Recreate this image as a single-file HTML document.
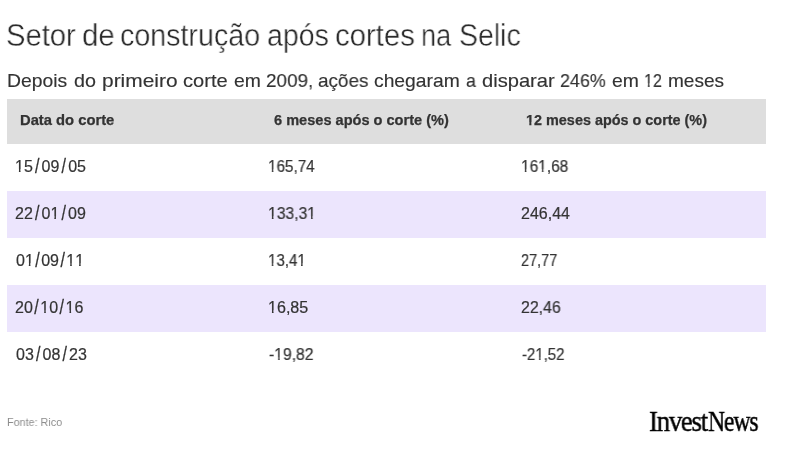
<!DOCTYPE html>
<html>
<head>
<meta charset="utf-8">
<style>
html,body{margin:0;padding:0;background:#fff;}
body{width:794px;height:459px;position:relative;overflow:hidden;font-family:"Liberation Sans",sans-serif;color:#333;}
.a{position:absolute;white-space:nowrap;line-height:1;will-change:transform;transform-origin:0 0;}
.title{font-size:31px;color:#2a2a2a;-webkit-text-stroke:0.4px #fff;}
.sub{font-size:19px;color:#333;-webkit-text-stroke:0.15px #333;}
.h{font-size:14.4px;font-weight:bold;color:#333;-webkit-text-stroke:0.25px #333;}
.c{font-size:16px;color:#333;-webkit-text-stroke:0.2px #333;}
.src{font-size:11px;color:#8c8c8c;}
.logo{font-family:"Liberation Serif",serif;font-size:28.5px;color:#000;letter-spacing:-1.3px;-webkit-text-stroke:0.45px #000;}
.band{position:absolute;left:7px;width:759px;}
.hd{top:99px;height:45px;background:#dedede;}
.st{background:#ece5fd;height:47px;}
.sl{display:inline-block;transform:translateY(0.5px) scaleY(1.32);transform-origin:50% 62%;}
.one{display:inline-block;clip-path:polygon(0 0,100% 0,100% .64em,62% .64em,62% 100%,44% 100%,44% .64em,0 .64em);}
.oneb{display:inline-block;clip-path:polygon(0 0,100% 0,100% .64em,67.5% .64em,67.5% 100%,41% 100%,41% .64em,0 .64em);}
</style>
</head>
<body>
<div class="band hd"></div>
<div class="band st" style="top:191px"></div>
<div class="band st" style="top:285px"></div>
<div class="a title" style="left:6.06px;top:19.5px;transform:scaleX(0.9415)">Setor</div>
<div class="a title" style="left:81.88px;top:19.5px;transform:scaleX(0.9494)">de</div>
<div class="a title" style="left:120.30px;top:19.5px;transform:scaleX(0.9231)">construção</div>
<div class="a title" style="left:267.41px;top:19.5px;transform:scaleX(0.9192)">após</div>
<div class="a title" style="left:335.27px;top:19.5px;transform:scaleX(0.9450)">cortes</div>
<div class="a title" style="left:421.48px;top:19.5px;transform:scaleX(0.8748)">na</div>
<div class="a title" style="left:459.41px;top:19.5px;transform:scaleX(0.9174)">Selic</div>
<div class="a sub" style="left:7.13px;top:71px;transform:scaleX(1.0178)">Depois</div>
<div class="a sub" style="left:74.07px;top:71px;transform:scaleX(1.0385)">do</div>
<div class="a sub" style="left:101.94px;top:71px;transform:scaleX(1.1006)">primeiro</div>
<div class="a sub" style="left:183.17px;top:71px;transform:scaleX(1.0566)">corte</div>
<div class="a sub" style="left:233.99px;top:71px;transform:scaleX(1.0184)">em</div>
<div class="a sub" style="left:265.61px;top:71px;transform:scaleX(0.9929)">2009,</div>
<div class="a sub" style="left:318.18px;top:71px;transform:scaleX(0.9935)">ações</div>
<div class="a sub" style="left:374.20px;top:71px;transform:scaleX(1.0145)">chegaram</div>
<div class="a sub" style="left:465.53px;top:71px;transform:scaleX(0.9320)">a</div>
<div class="a sub" style="left:481.85px;top:71px;transform:scaleX(1.0593)">disparar</div>
<div class="a sub" style="left:560.26px;top:71px;transform:scaleX(0.9410)">246%</div>
<div class="a sub" style="left:611.89px;top:71px;transform:scaleX(1.0184)">em</div>
<div class="a sub" style="left:644.19px;top:71px;transform:scaleX(0.8532)"><span class="one">1</span>2</div>
<div class="a sub" style="left:667.83px;top:71px;transform:scaleX(1.0016)">meses</div>
<div class="a h" style="left:19.99px;top:113px;transform:scaleX(1.0258)">Data do corte</div>
<div class="a h" style="left:273.52px;top:113px;transform:scaleX(1.0119)">6 meses após o corte (%)</div>
<div class="a h" style="left:526.16px;top:113px;transform:scaleX(1.0012)"><span class="oneb">1</span>2 meses após o corte (%)</div>
<div class="a c" style="left:14.63px;top:159px"><span class="one">1</span>5<span class="sl" style="margin:0 2.16px">/</span>09<span class="sl" style="margin:0 2.16px">/</span>05</div>
<div class="a c" style="left:267.64px;top:159px;transform:scaleX(0.9536)"><span class="one">1</span>65,74</div>
<div class="a c" style="left:520.63px;top:159px;transform:scaleX(0.9651)"><span class="one">1</span>6<span class="one">1</span>,68</div>
<div class="a c" style="left:15.08px;top:206px">22<span class="sl" style="margin:0 2.14px">/</span>0<span class="one">1</span><span class="sl" style="margin:0 2.14px">/</span>09</div>
<div class="a c" style="left:267.61px;top:206px;transform:scaleX(0.9797)"><span class="one">1</span>33,3<span class="one">1</span></div>
<div class="a c" style="left:521.08px;top:206px;transform:scaleX(0.9981)">246,44</div>
<div class="a c" style="left:15.70px;top:253px">0<span class="one">1</span><span class="sl" style="margin:0 1.45px">/</span>09<span class="sl" style="margin:0 1.45px">/</span><span class="one">1</span><span class="one">1</span></div>
<div class="a c" style="left:267.66px;top:253px;transform:scaleX(0.9430)"><span class="one">1</span>3,4<span class="one">1</span></div>
<div class="a c" style="left:521.35px;top:253px;transform:scaleX(0.9033)">27,77</div>
<div class="a c" style="left:15.08px;top:300px">20<span class="sl" style="margin:0 1.53px">/</span><span class="one">1</span>0<span class="sl" style="margin:0 1.53px">/</span><span class="one">1</span>6</div>
<div class="a c" style="left:267.62px;top:300px;transform:scaleX(1.0048)"><span class="one">1</span>6,85</div>
<div class="a c" style="left:521.29px;top:300px;transform:scaleX(0.9893)">22,46</div>
<div class="a c" style="left:15.70px;top:347px">03<span class="sl" style="margin:0 2.15px">/</span>08<span class="sl" style="margin:0 2.15px">/</span>23</div>
<div class="a c" style="left:268.59px;top:347px;transform:scaleX(0.9807)">-<span class="one">1</span>9,82</div>
<div class="a c" style="left:521.62px;top:347px;transform:scaleX(0.9354)">-2<span class="one">1</span>,52</div>
<div class="a src" style="left:6.98px;top:417px;transform:scaleX(0.9786)">Fonte: Rico</div>
<div class="a logo" style="left:649.29px;top:407.5px;transform:scaleX(0.9354)">Invest</div>
<div class="a logo" style="left:708.13px;top:407.5px;transform:scaleX(0.8273)">News</div>
</body>
</html>
